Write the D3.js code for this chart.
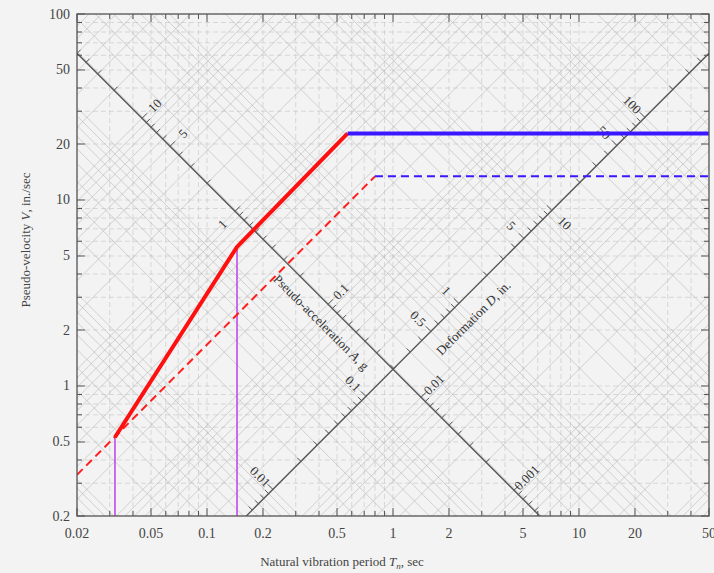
<!DOCTYPE html>
<html>
<head>
<meta charset="utf-8">
<script src="https://cdn.jsdelivr.net/npm/d3@7"></script>
<style>
body { margin: 0; background: #f3f3f3; }
svg { display: block; font-family: "Liberation Serif", "DejaVu Serif", serif; }
</style>
</head>
<body>
<div class="vis"></div>
<script>

//********************//
//  CHART DATA        //
//********************//

// labelled ticks on the frame
var periodTicks = [0.02, 0.05, 0.1, 0.2, 0.5, 1, 2, 5, 10, 20, 50];
var velocityTicks = [0.2, 0.5, 1, 2, 5, 10, 20, 50, 100];

// labelled values on the two diagonal scales
var accelLabels = [10, 5, 1, 0.1, 0.01, 0.001];
var deformLabels = [0.01, 0.1, 0.5, 1, 5, 10, 50, 100];

// spectrum segments, [period, pseudo-velocity]
var redSolid = [[0.032, 0.53], [0.145, 5.6], [0.57, 22.8]];
var blueSolid = [[0.57, 22.8], [50, 22.8]];
var redDashed = [[0.02, 0.333], [0.8, 13.4]];
var blueDashed = [[0.8, 13.4], [50, 13.4]];

// corner periods marked with a vertical drop line
var cornerPoints = [[0.032, 0.53], [0.145, 5.6]];

// where the A and D scale lines cross, [period, pseudo-velocity]
var scaleCross = [1, 1.23];

var gAccel = 386.1; // in/sec^2
var twoPi = 2 * Math.PI;


//********************//
//  SVG / SCALES      //
//********************//

var width = 714, height = 573;

var svg = d3.select(".vis").append("svg")
	.attr("width", width)
	.attr("height", height);

var plot = { left: 77, right: 709, top: 14, bottom: 516 };

var x = d3.scaleLog().domain([0.02, 50]).range([plot.left, plot.right]);
var y = d3.scaleLog().domain([0.2, 100]).range([plot.bottom, plot.top]);

var line = d3.line()
	.x(function(d) { return x(d[0]); })
	.y(function(d) { return y(d[1]); });

svg.append("clipPath").attr("id", "plotClip")
	.append("rect")
	.attr("x", plot.left).attr("y", plot.top)
	.attr("width", plot.right - plot.left)
	.attr("height", plot.bottom - plot.top);

var grid = svg.append("g").attr("clip-path", "url(#plotClip)");

// 1..9 multiples over a range of decades
var multiples = function(lo, hi) {
	var out = [];
	for (var k = lo; k <= hi; k++) {
		for (var m = 1; m <= 9; m++) out.push(+(m * Math.pow(10, k)).toPrecision(3));
	}
	return out;
}

var vAtAccel = function(A, T) { return A * gAccel * T / twoPi; };
var vAtDeform = function(D, T) { return twoPi * D / T; };


//********************//
//  GRID              //
//********************//

// vertical and horizontal grid
grid.selectAll(".vgrid").data(x.ticks()).enter().append("line")
	.attr("x1", function(d) { return x(d); }).attr("x2", function(d) { return x(d); })
	.attr("y1", plot.top).attr("y2", plot.bottom)
	.attr("stroke", "#cfcfcf").attr("stroke-width", 0.8)
	.attr("stroke-dasharray", "5,3");

grid.selectAll(".hgrid").data(y.ticks()).enter().append("line")
	.attr("y1", function(d) { return y(d); }).attr("y2", function(d) { return y(d); })
	.attr("x1", plot.left).attr("x2", plot.right)
	.attr("stroke", "#cfcfcf").attr("stroke-width", 0.8)
	.attr("stroke-dasharray", "5,3");

// constant acceleration lines (rising)
grid.selectAll(".agrid").data(multiples(-5, 2)).enter().append("path")
	.attr("d", function(A) { return line([[0.01, vAtAccel(A, 0.01)], [100, vAtAccel(A, 100)]]); })
	.attr("fill", "none").attr("stroke", "#b2b2b2").attr("stroke-width", 0.55);

// constant deformation lines (falling)
grid.selectAll(".dgrid").data(multiples(-4, 3)).enter().append("path")
	.attr("d", function(D) { return line([[0.01, vAtDeform(D, 0.01)], [100, vAtDeform(D, 100)]]); })
	.attr("fill", "none").attr("stroke", "#b2b2b2").attr("stroke-width", 0.55);


//********************//
//  DIAGONAL SCALES   //
//********************//

var cT = scaleCross[0], cV = scaleCross[1];
var r2 = Math.SQRT1_2;

var scales = svg.append("g").attr("clip-path", "url(#plotClip)");

// acceleration scale runs down-right: V*T = const
scales.append("path")
	.attr("d", line([[0.01, cV * cT / 0.01], [100, cV * cT / 100]]))
	.attr("stroke", "#555").attr("stroke-width", 1.3).attr("fill", "none");

// deformation scale runs up-right: V/T = const
scales.append("path")
	.attr("d", line([[0.01, cV / cT * 0.01], [100, cV / cT * 100]]))
	.attr("stroke", "#555").attr("stroke-width", 1.3).attr("fill", "none");

// screen point where a given A meets the acceleration scale
var accelPoint = function(A) {
	var v = Math.sqrt(cV * cT * A * gAccel / twoPi);
	return [x(cV * cT / v), y(v)];
}
var deformPoint = function(D) {
	var v = Math.sqrt(cV / cT * twoPi * D);
	return [x(v * cT / cV), y(v)];
}
var inside = function(p) {
	return p[0] >= plot.left && p[0] <= plot.right && p[1] >= plot.top && p[1] <= plot.bottom;
}

var aTicks = multiples(-4, 1).filter(function(A) { return inside(accelPoint(A)); });
scales.selectAll(".atick").data(aTicks).enter().append("line")
	.each(function(A) {
		var p = accelPoint(A), len = accelLabels.indexOf(A) >= 0 ? 7 : 5;
		d3.select(this).attr("x1", p[0]).attr("y1", p[1])
			.attr("x2", p[0] + len * r2).attr("y2", p[1] - len * r2);
	})
	.attr("stroke", "#555").attr("stroke-width", 1);

var dTicks = multiples(-3, 2).filter(function(D) { return inside(deformPoint(D)); });
scales.selectAll(".dtick").data(dTicks).enter().append("line")
	.each(function(D) {
		var p = deformPoint(D), len = deformLabels.indexOf(D) >= 0 ? 7 : 5;
		d3.select(this).attr("x1", p[0]).attr("y1", p[1])
			.attr("x2", p[0] - len * r2).attr("y2", p[1] - len * r2);
	})
	.attr("stroke", "#555").attr("stroke-width", 1);

// labels: A values sit up-right of the line, except 1 which is below it
svg.selectAll(".alabel").data(accelLabels).enter().append("text")
	.attr("transform", function(A) {
		var p = accelPoint(A), s = A === 1 ? -1 : 1, off = 18;
		return "translate(" + (p[0] + s * off * r2) + "," + (p[1] - s * off * r2) + ") rotate(-45)";
	})
	.attr("text-anchor", "middle").attr("dominant-baseline", "central")
	.attr("font-size", 13).attr("fill", "#333")
	.text(function(d) { return d; });

// D values sit up-left, except 10 which is below it
svg.selectAll(".dlabel").data(deformLabels).enter().append("text")
	.attr("transform", function(D) {
		var p = deformPoint(D), s = D === 10 ? -1 : 1, off = 18;
		return "translate(" + (p[0] - s * off * r2) + "," + (p[1] - s * off * r2) + ") rotate(45)";
	})
	.attr("text-anchor", "middle").attr("dominant-baseline", "central")
	.attr("font-size", 13).attr("fill", "#333")
	.text(function(d) { return d; });

// scale titles
var pa = accelPoint(0.087);
var aTitle = svg.append("text")
	.attr("transform", "translate(" + (pa[0] - 17 * r2) + "," + (pa[1] + 17 * r2) + ") rotate(45)")
	.attr("text-anchor", "middle").attr("dominant-baseline", "central")
	.attr("font-size", 13).attr("fill", "#333");
aTitle.append("tspan").text("Pseudo-acceleration ");
aTitle.append("tspan").attr("font-style", "italic").text("A");
aTitle.append("tspan").text(", g");

var pd = deformPoint(1);
var dTitle = svg.append("text")
	.attr("transform", "translate(" + (pd[0] + 20 * r2) + "," + (pd[1] + 20 * r2) + ") rotate(-45)")
	.attr("text-anchor", "middle").attr("dominant-baseline", "central")
	.attr("font-size", 13).attr("fill", "#333");
dTitle.append("tspan").text("Deformation ");
dTitle.append("tspan").attr("font-style", "italic").text("D");
dTitle.append("tspan").text(", in.");


//********************//
//  SPECTRUM LINES    //
//********************//

var marks = svg.append("g").attr("clip-path", "url(#plotClip)");

marks.selectAll(".drop").data(cornerPoints).enter().append("line")
	.attr("x1", function(d) { return x(d[0]); }).attr("x2", function(d) { return x(d[0]); })
	.attr("y1", function(d) { return y(d[1]); }).attr("y2", y(0.2))
	.attr("stroke", "#c04ce6").attr("stroke-width", 1.6);

marks.append("path").attr("d", line(redDashed))
	.attr("fill", "none").attr("stroke", "#ff1e1e").attr("stroke-width", 2)
	.attr("stroke-dasharray", "8,5");
marks.append("path").attr("d", line(blueDashed))
	.attr("fill", "none").attr("stroke", "#3a18ff").attr("stroke-width", 2)
	.attr("stroke-dasharray", "8,5");

marks.append("path").attr("d", line(redSolid))
	.attr("fill", "none").attr("stroke", "#ff1010").attr("stroke-width", 4)
	.attr("stroke-linejoin", "round");
marks.append("path").attr("d", line(blueSolid))
	.attr("fill", "none").attr("stroke", "#3a18ff").attr("stroke-width", 4);


//********************//
//  FRAME AND AXES    //
//********************//

svg.append("rect")
	.attr("x", plot.left).attr("y", plot.top)
	.attr("width", plot.right - plot.left).attr("height", plot.bottom - plot.top)
	.attr("fill", "none").attr("stroke", "#555").attr("stroke-width", 1.3);

var tickLen = function(list, d) { return list.indexOf(d) >= 0 ? 8 : 5; };

var xt = x.ticks();
svg.selectAll(".xb").data(xt).enter().append("line")
	.attr("x1", function(d) { return x(d); }).attr("x2", function(d) { return x(d); })
	.attr("y1", plot.bottom).attr("y2", function(d) { return plot.bottom - tickLen(periodTicks, d); })
	.attr("stroke", "#555");
svg.selectAll(".xt").data(xt).enter().append("line")
	.attr("x1", function(d) { return x(d); }).attr("x2", function(d) { return x(d); })
	.attr("y1", plot.top).attr("y2", function(d) { return plot.top + tickLen(periodTicks, d); })
	.attr("stroke", "#555");

var yt = y.ticks();
svg.selectAll(".yl").data(yt).enter().append("line")
	.attr("y1", function(d) { return y(d); }).attr("y2", function(d) { return y(d); })
	.attr("x1", plot.left).attr("x2", function(d) { return plot.left + tickLen(velocityTicks, d); })
	.attr("stroke", "#555");
svg.selectAll(".yr").data(yt).enter().append("line")
	.attr("y1", function(d) { return y(d); }).attr("y2", function(d) { return y(d); })
	.attr("x1", plot.right).attr("x2", function(d) { return plot.right - tickLen(velocityTicks, d); })
	.attr("stroke", "#555");

svg.selectAll(".xlab").data(periodTicks).enter().append("text")
	.attr("x", function(d) { return x(d); }).attr("y", 538)
	.attr("text-anchor", "middle").attr("font-size", 14).attr("fill", "#444")
	.text(function(d) { return d; });

svg.selectAll(".ylab").data(velocityTicks).enter().append("text")
	.attr("x", 70).attr("y", function(d) { return y(d); })
	.attr("text-anchor", "end").attr("dominant-baseline", "central")
	.attr("font-size", 14).attr("fill", "#444")
	.text(function(d) { return d; });

// axis titles
var xTitle = svg.append("text")
	.attr("x", 342).attr("y", 566)
	.attr("text-anchor", "middle").attr("font-size", 13).attr("fill", "#444");
xTitle.append("tspan").text("Natural vibration period ");
xTitle.append("tspan").attr("font-style", "italic").text("T");
xTitle.append("tspan").attr("font-style", "italic").attr("font-size", 9).attr("dy", 3).text("n");
xTitle.append("tspan").attr("dy", -3).text(", sec");

var yTitle = svg.append("text")
	.attr("transform", "translate(30,240) rotate(-90)")
	.attr("text-anchor", "middle").attr("font-size", 13).attr("fill", "#444");
yTitle.append("tspan").text("Pseudo-velocity ");
yTitle.append("tspan").attr("font-style", "italic").text("V");
yTitle.append("tspan").text(", in./sec");

</script>
</body>
</html>
